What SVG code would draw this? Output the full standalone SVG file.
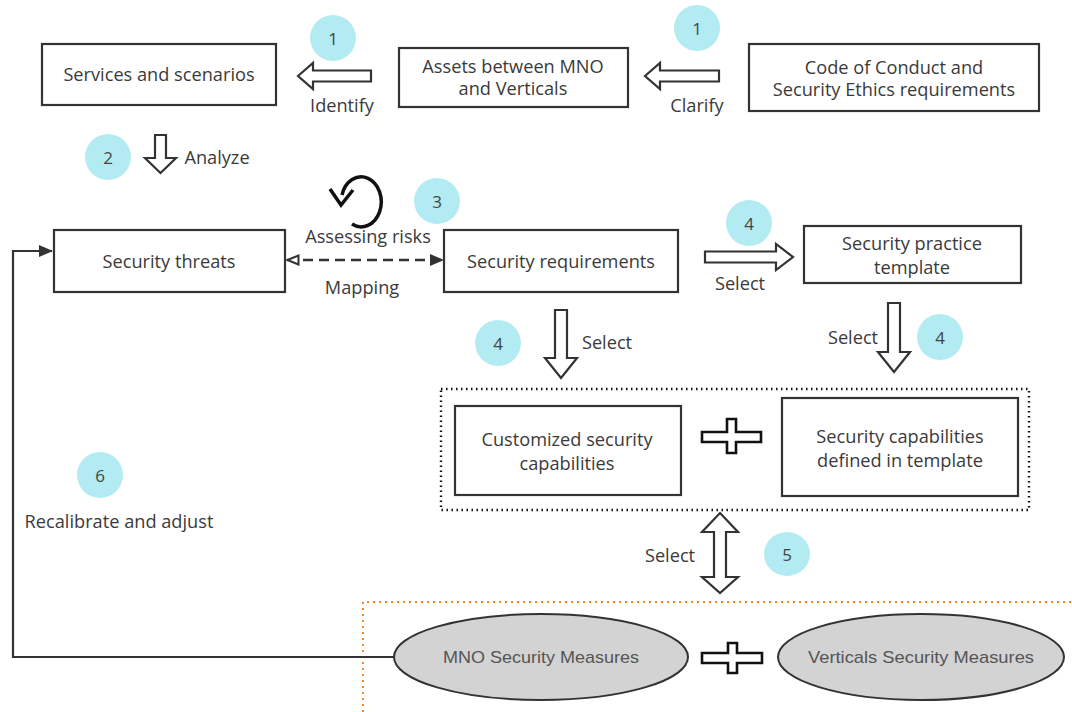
<svg xmlns="http://www.w3.org/2000/svg" width="1072" height="712" viewBox="0 0 1072 712">
<style>
.box{fill:#fff;stroke:#333;stroke-width:2.2}
.t{font-family:"Open Sans","Noto Sans",sans-serif;font-size:18.2px;fill:#3a3a3a;text-anchor:middle;dominant-baseline:central}
.num{font-family:"Open Sans","Noto Sans",sans-serif;font-size:17px;fill:#444;text-anchor:middle;dominant-baseline:central}
.badge{fill:#b3ebf2}
.harrow{fill:#fff;stroke:#333;stroke-width:2.2;stroke-linejoin:miter}
.plus{fill:#fff;stroke:#111;stroke-width:2.6}
.ell{fill:#d3d3d3;stroke:#333;stroke-width:2}
.et{font-family:"Liberation Sans",Arial,sans-serif;font-size:17px;fill:#555;text-anchor:middle;dominant-baseline:central}
</style>
<defs>
<marker id="fill" markerWidth="14" markerHeight="12" refX="13" refY="6" orient="auto-start-reverse" markerUnits="userSpaceOnUse">
<path d="M0,0 L14,6 L0,12 Z" fill="#333"/>
</marker>
<marker id="hollow" markerWidth="14" markerHeight="12" refX="13" refY="6" orient="auto-start-reverse" markerUnits="userSpaceOnUse">
<path d="M1.5,1.5 L12.5,6 L1.5,10.5 Z" fill="#fff" stroke="#333" stroke-width="2"/>
</marker>
</defs>

<!-- orange dotted region -->
<path d="M363,712 L363,602 L1072,602" fill="none" stroke="#f08a24" stroke-width="2" stroke-dasharray="2,4"/>

<g id="n-services"><rect class="box" x="42" y="44" width="234" height="61"/><text class="t" x="159" y="74">Services and scenarios</text></g>
<g id="n-assets"><rect class="box" x="399" y="48" width="229" height="59"/><text class="t" x="513" y="66">Assets between MNO</text><text class="t" x="513" y="88">and Verticals</text></g>
<g id="n-code"><rect class="box" x="749" y="44" width="290" height="67"/><text class="t" x="894" y="67">Code of Conduct and</text><text class="t" x="894" y="89">Security Ethics requirements</text></g>
<g id="n-threats"><rect class="box" x="54" y="230" width="231" height="62"/><text class="t" x="169" y="261">Security threats</text></g>
<g id="n-req"><rect class="box" x="444" y="230" width="234" height="62"/><text class="t" x="561" y="261">Security requirements</text></g>
<g id="n-template"><rect class="box" x="804" y="226" width="217" height="57"/><text class="t" x="912" y="243">Security practice</text><text class="t" x="912" y="267">template</text></g>
<g id="n-group"><rect x="441" y="389" width="588" height="121" fill="none" stroke="#111" stroke-width="2.4" stroke-dasharray="1.5,3.5"/></g>
<g id="n-custom"><rect class="box" x="455" y="406" width="226" height="89"/><text class="t" x="567" y="439">Customized security</text><text class="t" x="567" y="463">capabilities</text></g>
<g id="n-defined"><rect class="box" x="782" y="398" width="236" height="98"/><text class="t" x="900" y="436">Security capabilities</text><text class="t" x="900" y="460">defined in template</text></g>
<g id="n-mno"><ellipse class="ell" cx="541" cy="657" rx="147" ry="43"/><text class="et" x="541" y="657" textLength="196" lengthAdjust="spacingAndGlyphs">MNO Security Measures</text></g>
<g id="n-vert"><ellipse class="ell" cx="921" cy="657" rx="143" ry="43"/><text class="et" x="921" y="657" textLength="226" lengthAdjust="spacingAndGlyphs">Verticals Security Measures</text></g>

<g id="connectors">
<!-- Identify -->
<polygon class="harrow" points="298,76 313,63 313,70.5 371,70.5 371,81.5 313,81.5 313,89"/>
<!-- Clarify -->
<polygon class="harrow" points="645,76 660,63 660,70.5 719,70.5 719,81.5 660,81.5 660,89"/>
<!-- Analyze -->
<polygon class="harrow" points="155,135 166,135 166,158 176,158 160.5,173 145,158 155,158"/>
<!-- Mapping dashed -->
<line x1="287" y1="260" x2="443" y2="260" stroke="#333" stroke-width="2.4" stroke-dasharray="10,6" marker-start="url(#hollow)" marker-end="url(#fill)"/>
<!-- Select right -->
<polygon class="harrow" points="705,251.5 776,251.5 776,244 793,257 776,270 776,262.5 705,262.5"/>
<!-- Select down from requirements -->
<polygon class="harrow" points="555,310 567,310 567,358 577,358 561,378 545,358 555,358"/>
<!-- Select down from template -->
<polygon class="harrow" points="888,303 900,303 900,352 910,352 894,372 878,352 888,352"/>
<!-- Select double -->
<polygon class="harrow" points="720,513 738,532 726,532 726,577 738,577 720,593 702,577 714,577 714,532 702,532"/>
<!-- feedback -->
<polyline points="395,657 13,657 13,251 52,251" fill="none" stroke="#333" stroke-width="2.2" marker-end="url(#fill)"/>
<!-- loop icon -->
<path d="M352,224 A20,25 0 1 0 342,195" fill="none" stroke="#111" stroke-width="3.5"/>
<path d="M330,189 L341,205 L353,190" fill="none" stroke="#111" stroke-width="3.5" stroke-linejoin="miter"/>
</g>

<!-- plus signs -->
<path class="plus" d="M727,419 H736 V432 H761 V442 H736 V453 H727 V442 H702 V432 H727 Z"/>
<path class="plus" d="M728,643 H737 V653 H762 V663 H737 V673 H728 V663 H702 V653 H728 Z"/>

<!-- badges -->
<g id="badges">
<circle class="badge" cx="333" cy="38" r="23"/><text class="num" x="333" y="38">1</text>
<circle class="badge" cx="697" cy="28" r="23"/><text class="num" x="697" y="28">1</text>
<circle class="badge" cx="108" cy="157" r="23"/><text class="num" x="108" y="157">2</text>
<circle class="badge" cx="437" cy="201" r="23"/><text class="num" x="437" y="201">3</text>
<circle class="badge" cx="749" cy="223" r="23"/><text class="num" x="749" y="223">4</text>
<circle class="badge" cx="498" cy="343" r="23"/><text class="num" x="498" y="343">4</text>
<circle class="badge" cx="940" cy="337" r="23"/><text class="num" x="940" y="337">4</text>
<ellipse class="badge" cx="787" cy="554" rx="23" ry="22"/><text class="num" x="787" y="554">5</text>
<circle class="badge" cx="100" cy="475" r="23"/><text class="num" x="100" y="475">6</text>
</g>

<!-- labels -->
<text class="t" x="342" y="105">Identify</text>
<text class="t" x="697" y="105">Clarify</text>
<text class="t" x="217" y="157">Analyze</text>
<text class="t" x="368" y="236">Assessing risks</text>
<text class="t" x="362" y="287">Mapping</text>
<text class="t" x="740" y="283">Select</text>
<text class="t" x="607" y="342">Select</text>
<text class="t" x="853" y="337">Select</text>
<text class="t" x="670" y="555">Select</text>
<text class="t" x="119" y="521">Recalibrate and adjust</text>
</svg>
